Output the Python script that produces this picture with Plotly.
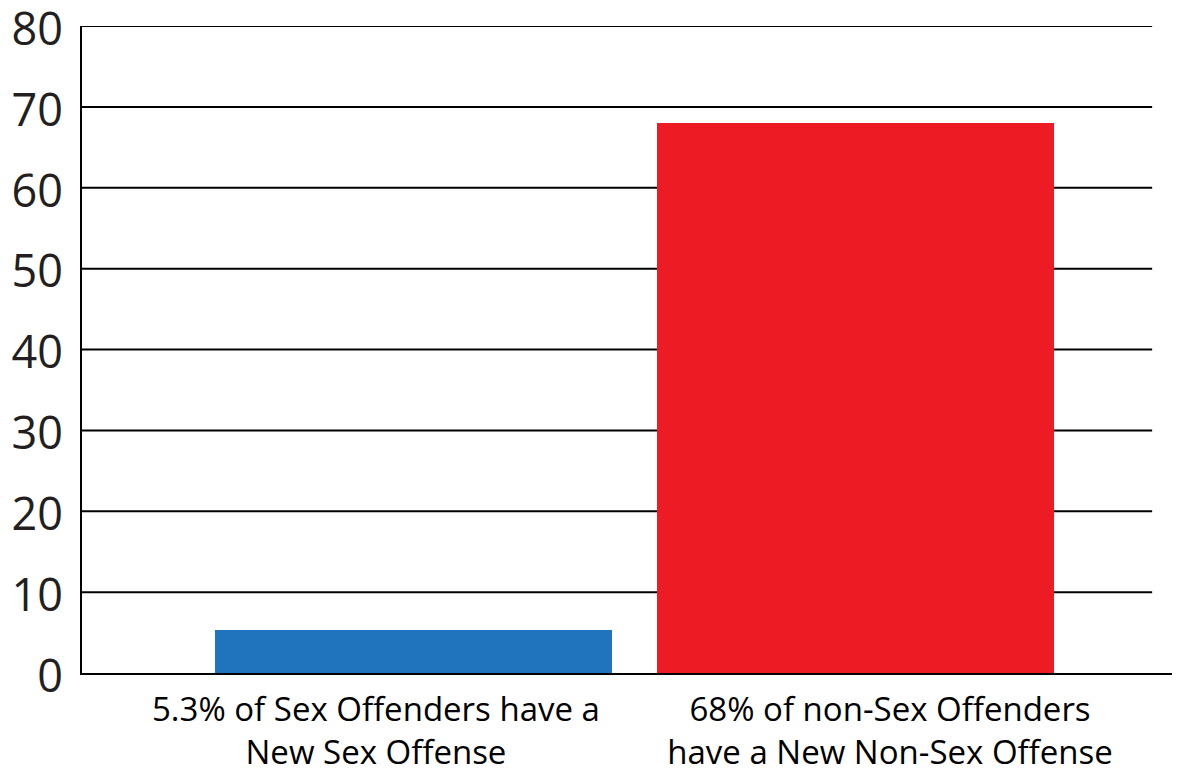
import plotly.graph_objects as go

# Data
categories = ["Sex Offenders", "non-Sex Offenders"]
values = [5.3, 68]
bar_positions = [0, 1]
bar_colors = ["#1F74BD", "#ED1C24"]
label_positions = [-0.084, 1.079]
label_texts = ["5.3% of Sex Offenders have a<br>New Sex Offense",
               "68% of non-Sex Offenders<br>have a New Non-Sex Offense"]
y_ticks = [0, 10, 20, 30, 40, 50, 60, 70, 80]

X_RANGE = [-0.749, 1.735]
GRID_END = 1.672

fig = go.Figure()
fig.add_trace(go.Bar(
    x=bar_positions, y=values, width=0.898,
    marker=dict(color=bar_colors, line=dict(width=0)),
    hoverinfo="skip", showlegend=False,
))

for v in y_ticks[1:]:
    fig.add_shape(type="line", xref="x", yref="y", x0=X_RANGE[0], x1=GRID_END,
                  y0=v, y1=v, line=dict(color="#000000", width=2), layer="below")

# page body has an 8px default margin, so the figure is offset by (8, 8)
fig.update_layout(
    width=1172, height=765,
    margin=dict(l=74, r=0, t=18, b=100),
    paper_bgcolor="white", plot_bgcolor="white",
    font=dict(family="Open Sans", color="#231F20"),
    bargap=0,
)
fig.update_xaxes(
    range=X_RANGE, tickmode="array", tickvals=label_positions, ticktext=label_texts,
    showgrid=False, zeroline=False, showline=True, linecolor="#000000", linewidth=2,
    ticks="", tickfont=dict(size=33, color="#000000"), ticklabelstandoff=6,
    automargin=False, ticklabeloverflow="allow",
)
fig.update_yaxes(
    range=[0, 80.001], tickmode="array", tickvals=y_ticks,
    showgrid=False, zeroline=False, showline=True, linecolor="#000000", linewidth=2,
    ticks="", tickfont=dict(size=45, color="#231F20"), ticklabelstandoff=8,
    ticklabelshift=3,
    automargin=False, ticklabeloverflow="allow",
)

fig.write_html("out.html")
